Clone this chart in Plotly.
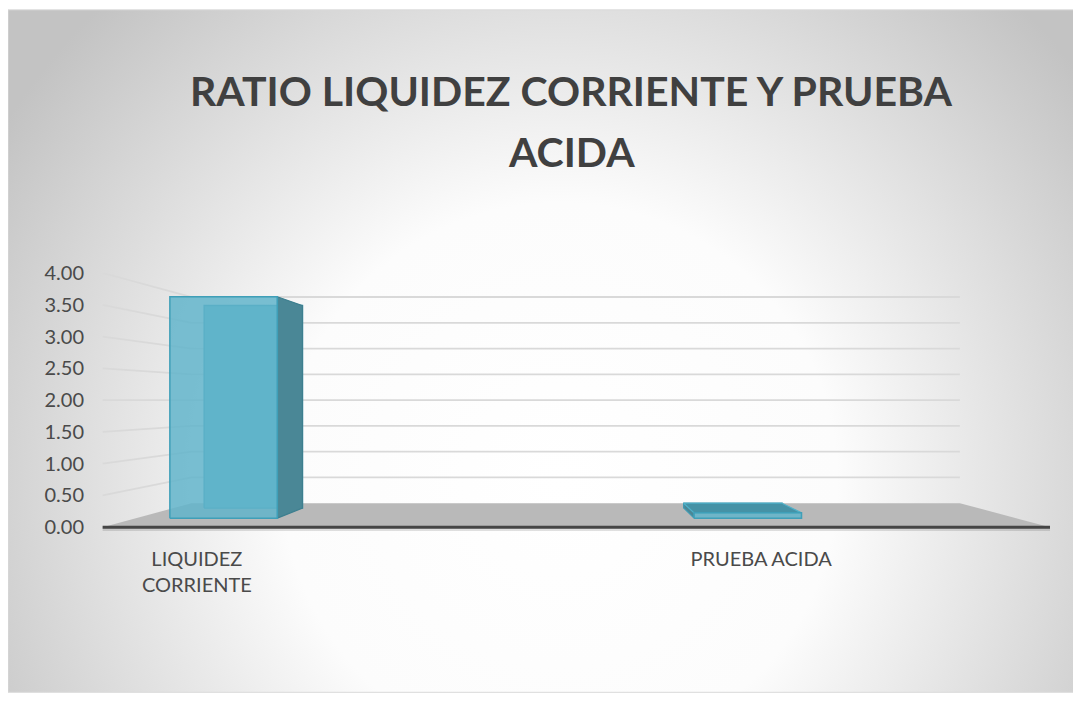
import base64
import plotly.graph_objects as go

# ---------------- data ----------------
categories = ["LIQUIDEZ CORRIENTE", "PRUEBA ACIDA"]
tick_labels = ["LIQUIDEZ<br>CORRIENTE", "PRUEBA ACIDA"]
values = [3.75, 0.09]
y_ticks = [0.0, 0.5, 1.0, 1.5, 2.0, 2.5, 3.0, 3.5, 4.0]
title_lines = ["RATIO LIQUIDEZ CORRIENTE Y PRUEBA", "ACIDA"]

# ---------------- geometry / style ----------------
OFF = 8                      # page body margin
W, H = 1081, 702
L, R, T = 97 - OFF, 31 + OFF, 273 - OFF
X_RANGE = [-0.177, 1.512]
Y_RANGE = [-0.06, 4.0]
PX_PER_Y = 63.5
plot_w = W - L - R
plot_h = (Y_RANGE[1] - Y_RANGE[0]) * PX_PER_Y
B = H - T - plot_h
VP = (0.667, 2.0)            # vanishing point in data units
K_BACK = 0.811               # depth scale of back wall
BAR_K = (0.929, 0.850)       # front / back depth of bars
BAR_W = 0.205
FLOOR_X = (-0.167, 1.512)
FONT = "Lato, 'Open Sans', sans-serif"


def proj(x, v, k):
    return VP[0] + k * (x - VP[0]), VP[1] + k * (v - VP[1])


def poly(points, fill, line, width=1.2):
    xs = [p[0] for p in points] + [points[0][0]]
    ys = [p[1] for p in points] + [points[0][1]]
    return go.Scatter(x=xs, y=ys, mode="lines", fill="toself", fillcolor=fill,
                      line=dict(color=line, width=width), hoverinfo="skip",
                      showlegend=False)


def px2paper(px, py):
    # page pixel -> paper coords
    fx, fy = px - OFF, py - OFF
    return (fx - L) / plot_w, (T + plot_h - fy) / plot_h


fig = go.Figure()

# floor
xl, xr = FLOOR_X
floor = [proj(xl, 0, 1), proj(xr, 0, 1), proj(xr, 0, K_BACK), proj(xl, 0, K_BACK)]
fig.add_trace(poly(floor, "#b9b9b9", "rgba(0,0,0,0)", 0))

# wall gridlines
for v in y_ticks[1:]:
    pts = [proj(xl, v, 1), proj(xl, v, K_BACK), proj(xr, v, K_BACK)]
    fig.add_trace(go.Scatter(x=[p[0] for p in pts], y=[p[1] for p in pts], mode="lines",
                             line=dict(color="#d9d9d9", width=1.8), hoverinfo="skip",
                             showlegend=False))

# floor front edge
fe = [proj(xl, 0, 1), proj(xr, 0, 1)]
fig.add_trace(go.Scatter(x=[p[0] for p in fe], y=[p[1] - 0.025 for p in fe], mode="lines",
                         line=dict(color="rgba(0,0,0,0.12)", width=5), hoverinfo="skip",
                         showlegend=False))
fig.add_trace(go.Scatter(x=[p[0] for p in fe], y=[p[1] for p in fe], mode="lines",
                         line=dict(color="#454545", width=3), hoverinfo="skip",
                         showlegend=False))

# 3D bars
for i, v in enumerate(values):
    c = float(i)
    x0, x1 = c - BAR_W / 2, c + BAR_W / 2
    kf, kb = BAR_K
    back = [proj(x0, 0, kb), proj(x1, 0, kb), proj(x1, v, kb), proj(x0, v, kb)]
    fig.add_trace(poly(back, "#5fb3c9", "#3a97b0", 1.4))
    if x1 < VP[0]:
        side = [proj(x1, 0, kf), proj(x1, 0, kb), proj(x1, v, kb), proj(x1, v, kf)]
        fig.add_trace(poly(side, "#4a8796", "#3d7f8f", 1.2))
    if x0 > VP[0]:
        side = [proj(x0, 0, kf), proj(x0, 0, kb), proj(x0, v, kb), proj(x0, v, kf)]
        fig.add_trace(poly(side, "#4a8796", "#3f9cb5", 1.2))
    if v < VP[1]:
        top = [proj(x0, v, kf), proj(x1, v, kf), proj(x1, v, kb), proj(x0, v, kb)]
        fig.add_trace(poly(top, "#4592a6", "#4fb0c8", 1.2))
    front = [proj(x0, 0, kf), proj(x1, 0, kf), proj(x1, v, kf), proj(x0, v, kf)]
    fig.add_trace(poly(front, "rgba(96,180,203,0.84)", "#3f9fb8", 1.5))
    fig.data[-1].name = categories[i]

# background gradient image
svg = (
    '<svg xmlns="http://www.w3.org/2000/svg" width="1070" height="682" viewBox="0 0 1070 682" '
    'preserveAspectRatio="none"><defs><radialGradient id="g" gradientUnits="userSpaceOnUse" '
    'cx="552" cy="470" r="660"><stop offset="0" stop-color="#ffffff"/>'
    '<stop offset="0.42" stop-color="#fcfcfc"/><stop offset="1" stop-color="#c3c3c3"/>'
    '</radialGradient></defs><rect width="1070" height="682" fill="url(#g)"/></svg>'
)
src = "data:image/svg+xml;base64," + base64.b64encode(svg.encode()).decode()
ix, iy = px2paper(8, 10)
fig.add_layout_image(dict(source=src, xref="paper", yref="paper", x=ix, y=iy,
                          sizex=1070 / plot_w, sizey=682 / plot_h, sizing="stretch",
                          xanchor="left", yanchor="top", layer="below"))
bx0, by0 = px2paper(8, 692)
bx1, by1 = px2paper(1078, 10)
fig.add_shape(type="rect", xref="paper", yref="paper", x0=bx0, y0=by0, x1=bx1, y1=by1,
              line=dict(color="#d9d9d9", width=1), layer="above")

# title
for line, py in zip(title_lines, [91, 152]):
    ax, ay = px2paper(571, py)
    fig.add_annotation(text="<b>" + line + "</b>", xref="paper", yref="paper", x=ax, y=ay,
                       xanchor="center", yanchor="middle", showarrow=False,
                       font=dict(family=FONT, size=41, color="#404040"))

fig.update_layout(
    width=W, height=H,
    margin=dict(l=L, r=R, t=T, b=B, pad=0),
    paper_bgcolor="white", plot_bgcolor="rgba(0,0,0,0)",
    showlegend=False, hovermode=False,
    xaxis=dict(range=X_RANGE, showgrid=False, zeroline=False, showline=False,
               tickvals=[0, 1], ticktext=tick_labels, ticks="", ticklabelstandoff=14,
               tickfont=dict(family=FONT, size=20, color="#4a4a4a"), fixedrange=True),
    yaxis=dict(range=Y_RANGE, showgrid=False, zeroline=False, showline=False,
               tickvals=y_ticks, ticktext=[f"{v:.2f}" for v in y_ticks], ticks="",
               ticklabelstandoff=12,
               tickfont=dict(family=FONT, size=20, color="#4a4a4a"), fixedrange=True),
)

fig.write_html("out.html")
